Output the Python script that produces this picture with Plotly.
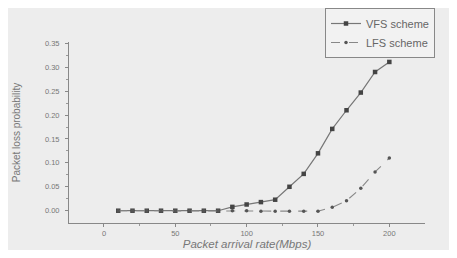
import plotly.graph_objects as go

rate = [10, 20, 30, 40, 50, 60, 70, 80, 90, 100, 110, 120, 130, 140, 150, 160, 170, 180, 190, 200]
vfs = [0, 0, 0, 0, 0, 0, 0, 0, 0.008, 0.013, 0.018, 0.023, 0.05, 0.077, 0.12, 0.171, 0.21, 0.247, 0.29, 0.311]
lfs = [0, 0, 0, 0, 0, 0, 0, 0, 0, 0, -0.001, -0.001, -0.001, -0.001, -0.001, 0.007, 0.021, 0.047, 0.081, 0.11]

x_ticks = [0, 50, 100, 150, 200]
y_ticks = [0.00, 0.05, 0.10, 0.15, 0.20, 0.25, 0.30, 0.35]

fig = go.Figure()
fig.add_trace(go.Scatter(
    x=rate, y=vfs, mode="lines+markers", name="VFS scheme",
    line=dict(color="#777777", width=1.2),
    marker=dict(symbol="square", size=4.5, color="#444444"),
))
fig.add_trace(go.Scatter(
    x=rate, y=lfs, mode="lines+markers", name="LFS scheme",
    line=dict(color="#888888", width=1.1, dash="dash"),
    marker=dict(symbol="circle", size=3.5, color="#555555"),
))

FONT = "Liberation Sans, Arial, sans-serif"
axis_font = dict(family=FONT, size=7.5, color="#777777")
fig.update_layout(
    width=441, height=242,
    margin=dict(l=61, r=24, t=34, b=27, autoexpand=False),
    paper_bgcolor="#ededed", plot_bgcolor="#ededed",
    showlegend=True,
    legend=dict(
        x=(317 - 61) / 356, y=215 / 181, xref="paper", yref="paper",
        xanchor="left", yanchor="top",
        bgcolor="#f2f2f2", bordercolor="#888888", borderwidth=1,
        font=dict(family=FONT, size=11, color="#666666"),
        tracegroupgap=0, itemwidth=30,
    ),
    xaxis=dict(
        range=[-24.5, 225], tickvals=x_ticks, ticktext=[str(v) for v in x_ticks],
        showgrid=False, zeroline=False, showline=True, linecolor="#888888", linewidth=1,
        ticks="outside", ticklen=3, tickcolor="#888888", tickfont=axis_font,
        minor=dict(tickvals=[25, 75, 125, 175], ticks="outside", ticklen=2, tickcolor="#999999"),
        title=dict(text="<i>Packet arrival rate(Mbps)</i>", standoff=10,
                   font=dict(family=FONT, size=11.5, color="#777777")),
    ),
    yaxis=dict(
        range=[-0.0257, 0.3527], tickvals=y_ticks, ticktext=["%.2f" % v for v in y_ticks],
        showgrid=False, zeroline=False, showline=True, linecolor="#888888", linewidth=1,
        ticks="outside", ticklen=3, tickcolor="#888888", tickfont=axis_font,
        ticklabelstandoff=4,
        minor=dict(tickvals=[0.025, 0.075, 0.125, 0.175, 0.225, 0.275, 0.325], ticks="outside",
                   ticklen=2, tickcolor="#999999"),
        title=dict(text="Packet loss probability", standoff=22,
                   font=dict(family=FONT, size=10, color="#777777")),
    ),
)

fig.write_html("out.html")
